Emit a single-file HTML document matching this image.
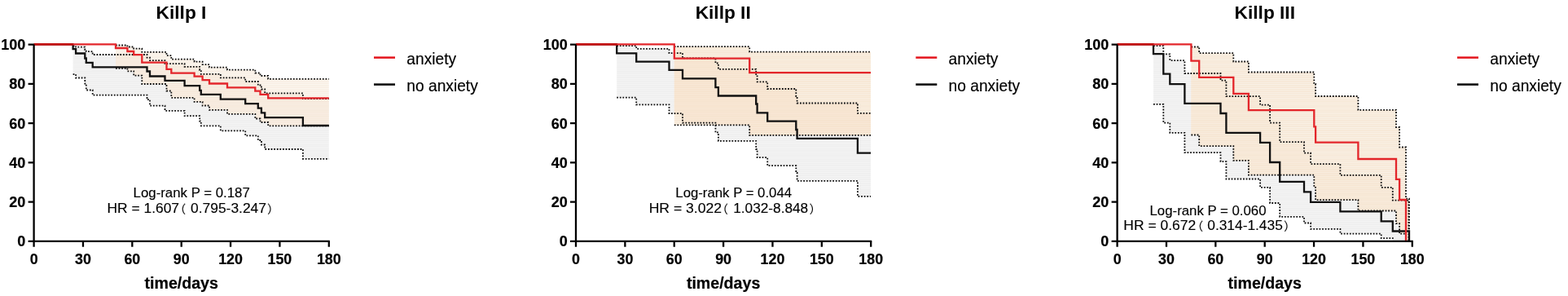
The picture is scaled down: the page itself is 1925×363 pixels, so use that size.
<!DOCTYPE html>
<html><head><meta charset="utf-8"><style>
html,body{margin:0;padding:0;background:#fff;width:1925px;height:363px;overflow:hidden}
svg{display:block}
text{font-family:"Liberation Sans","Noto Sans CJK SC",sans-serif;fill:#000}
.tk{font-weight:bold;font-size:17.3px;stroke:#000;stroke-width:0.2px}
.xt{font-weight:bold;font-size:19.6px;stroke:#000;stroke-width:0.2px}
.ti{font-weight:bold;font-size:22.7px}
.lg{font-size:19.2px;stroke:#000;stroke-width:0.15px}
.an{font-size:16px;white-space:pre;stroke:#000;stroke-width:0.12px}
.pa{font-size:14px}
.dot{fill:none;stroke:#111;stroke-width:1.8;stroke-dasharray:1.8 1.8}
.blk{fill:none;stroke:#111;stroke-width:2.3}
.red{fill:none;stroke:#e3262b;stroke-width:2.3}
</style></head><body>
<svg width="1925" height="363" viewBox="0 0 1925 363">
<defs>
<pattern id="hg" width="8" height="2.4" patternUnits="userSpaceOnUse"><rect width="8" height="2.4" fill="#eeeeee"/><rect width="8" height="0.9" fill="#f6f6f6"/></pattern>
<pattern id="ho1" width="8" height="2.4" patternUnits="userSpaceOnUse"><rect width="8" height="2.4" fill="#f8eee3"/><rect width="8" height="0.9" fill="#fcf8f2"/></pattern>
<pattern id="ovho1" width="8" height="2.4" patternUnits="userSpaceOnUse"><rect width="8" height="2.4" fill="#f6e8da"/><rect width="8" height="0.9" fill="#f9f0e6"/></pattern>
<pattern id="ho2" width="8" height="2.4" patternUnits="userSpaceOnUse"><rect width="8" height="2.4" fill="#f6e6d2"/><rect width="8" height="0.9" fill="#fbf2e8"/></pattern>
<pattern id="ovho2" width="8" height="2.4" patternUnits="userSpaceOnUse"><rect width="8" height="2.4" fill="#f6e2cd"/><rect width="8" height="0.9" fill="#f9ead9"/></pattern>
<pattern id="ho3" width="8" height="2.4" patternUnits="userSpaceOnUse"><rect width="8" height="2.4" fill="#f6e7d5"/><rect width="8" height="0.9" fill="#fbf3ea"/></pattern>
<pattern id="ovho3" width="8" height="2.4" patternUnits="userSpaceOnUse"><rect width="8" height="2.4" fill="#f6e5d1"/><rect width="8" height="0.9" fill="#f9eee1"/></pattern>
</defs>
<g id="p0">
<clipPath id="cho1"><path d="M142.00 55.50H156.40V57.50H164.20V59.60H174.30V63.80H204.50V68.20H210.30V72.70H238.60V75.70H248.60V79.10H257.00V82.60H279.00V85.70H313.30V89.50H319.50V93.00H329.20V96.80H403.80V154.30H329.20V150.00H319.50V145.50H313.30V139.80H279.00V134.80H257.00V129.50H248.60V124.90H238.60V119.80H210.30V111.50H204.50V103.00H174.30V92.60H164.20V87.30H156.40V83.80H142.00Z"/></clipPath>
<path d="M89.60 56.30H93.10V57.70H104.30V61.20H105.80V63.10H113.70V67.00H180.50V70.60H184.00V74.10H202.50V78.20H226.60V81.80H245.20V86.00H246.80V90.80H270.80V95.40H301.20V100.00H316.80V104.50H320.90V109.50H325.20V114.30H371.90V121.10H403.80V194.80H371.90V183.00H325.20V177.50H320.90V172.00H316.80V166.30H301.20V160.30H270.80V154.30H246.80V148.50H245.20V142.20H226.60V135.80H202.50V129.70H184.00V122.20H180.50V116.60H113.70V110.50H105.80V102.50H104.30V95.50H93.10V91.20H89.60Z" fill="url(#hg)"/>
<path d="M142.00 55.50H156.40V57.50H164.20V59.60H174.30V63.80H204.50V68.20H210.30V72.70H238.60V75.70H248.60V79.10H257.00V82.60H279.00V85.70H313.30V89.50H319.50V93.00H329.20V96.80H403.80V154.30H329.20V150.00H319.50V145.50H313.30V139.80H279.00V134.80H257.00V129.50H248.60V124.90H238.60V119.80H210.30V111.50H204.50V103.00H174.30V92.60H164.20V87.30H156.40V83.80H142.00Z" fill="url(#ho1)"/>
<path d="M89.60 56.30H93.10V57.70H104.30V61.20H105.80V63.10H113.70V67.00H180.50V70.60H184.00V74.10H202.50V78.20H226.60V81.80H245.20V86.00H246.80V90.80H270.80V95.40H301.20V100.00H316.80V104.50H320.90V109.50H325.20V114.30H371.90V121.10H403.80V194.80H371.90V183.00H325.20V177.50H320.90V172.00H316.80V166.30H301.20V160.30H270.80V154.30H246.80V148.50H245.20V142.20H226.60V135.80H202.50V129.70H184.00V122.20H180.50V116.60H113.70V110.50H105.80V102.50H104.30V95.50H93.10V91.20H89.60Z" fill="url(#ovho1)" clip-path="url(#cho1)"/>
<path d="M89.60 56.30H93.10V57.70H104.30V61.20H105.80V63.10H113.70V67.00H180.50V70.60H184.00V74.10H202.50V78.20H226.60V81.80H245.20V86.00H246.80V90.80H270.80V95.40H301.20V100.00H316.80V104.50H320.90V109.50H325.20V114.30H371.90V121.10H403.80" class="dot"/>
<path d="M89.60 91.20H93.10V95.50H104.30V102.50H105.80V110.50H113.70V116.60H180.50V122.20H184.00V129.70H202.50V135.80H226.60V142.20H245.20V148.50H246.80V154.30H270.80V160.30H301.20V166.30H316.80V172.00H320.90V177.50H325.20V183.00H371.90V194.80H403.80" class="dot"/>
<path d="M142.00 55.50H156.40V57.50H164.20V59.60H174.30V63.80H204.50V68.20H210.30V72.70H238.60V75.70H248.60V79.10H257.00V82.60H279.00V85.70H313.30V89.50H319.50V93.00H329.20V96.80H403.80" class="dot"/>
<path d="M142.00 83.80H156.40V87.30H164.20V92.60H174.30V103.00H204.50V111.50H210.30V119.80H238.60V124.90H248.60V129.50H257.00V134.80H279.00V139.80H313.30V145.50H319.50V150.00H329.20V154.30H403.80" class="dot"/>
<path d="M41.60 54.30H89.60V60.20H93.10V65.50H104.30V71.50H105.80V76.90H113.70V82.40H180.50V87.50H184.00V93.50H202.50V98.80H226.60V105.20H245.20V110.80H246.80V115.90H270.80V121.60H301.20V127.20H316.80V132.70H320.90V138.40H325.20V144.20H371.90V154.00H403.80" class="blk"/>
<path d="M41.60 54.30H142.00V59.00H156.40V63.00H164.20V67.20H174.30V76.60H204.50V84.80H210.30V89.60H238.60V93.60H248.60V98.10H257.00V102.50H279.00V107.40H313.30V111.60H319.50V115.90H329.20V120.30H403.80" class="red"/>
<path d="M41.60 54.30H89.60" class="red" style="stroke:#c40a0a"/>
<path d="M41.60 54.60V295.85H404.80" fill="none" stroke="#000" stroke-width="2.3" stroke-linejoin="miter"/>
<path d="M34.60 295.85H41.60M34.60 247.60H41.60M34.60 199.35H41.60M34.60 151.10H41.60M34.60 102.85H41.60M34.60 54.60H41.60M41.60 295.85V302.65M101.97 295.85V302.65M162.33 295.85V302.65M222.70 295.85V302.65M283.06 295.85V302.65M343.43 295.85V302.65M403.80 295.85V302.65" stroke="#000" stroke-width="2.3" fill="none"/>
<text class="tk" transform="translate(31.30 302.45) scale(1.04 1.09)" text-anchor="end">0</text>
<text class="tk" transform="translate(31.30 254.20) scale(1.04 1.09)" text-anchor="end">20</text>
<text class="tk" transform="translate(31.30 205.95) scale(1.04 1.09)" text-anchor="end">40</text>
<text class="tk" transform="translate(31.30 157.70) scale(1.04 1.09)" text-anchor="end">60</text>
<text class="tk" transform="translate(31.30 109.45) scale(1.04 1.09)" text-anchor="end">80</text>
<text class="tk" transform="translate(31.30 61.20) scale(1.04 1.09)" text-anchor="end">100</text>
<text class="tk" transform="translate(41.60 323.6) scale(1.03 1.09)" text-anchor="middle">0</text>
<text class="tk" transform="translate(101.97 323.6) scale(1.03 1.09)" text-anchor="middle">30</text>
<text class="tk" transform="translate(162.33 323.6) scale(1.03 1.09)" text-anchor="middle">60</text>
<text class="tk" transform="translate(222.70 323.6) scale(1.03 1.09)" text-anchor="middle">90</text>
<text class="tk" transform="translate(283.06 323.6) scale(1.03 1.09)" text-anchor="middle">120</text>
<text class="tk" transform="translate(343.43 323.6) scale(1.03 1.09)" text-anchor="middle">150</text>
<text class="tk" transform="translate(403.80 323.6) scale(1.03 1.09)" text-anchor="middle">180</text>
<text class="xt" x="222.70" y="353.5" text-anchor="middle">time/days</text>
<text class="ti" x="222.5" y="23.1" text-anchor="middle">Killp I</text>
<path d="M459 70.6H485" stroke="#e3141b" stroke-width="2.5"/>
<path d="M459 103.6H485" stroke="#000" stroke-width="2.5"/>
<text class="lg" transform="translate(499.3 78.5) scale(1 1.1)">anxiety</text>
<text class="lg" transform="translate(499.3 112) scale(1 1.1)">no anxiety</text>
<text class="an" x="163.63" y="241.85" textLength="143.16" lengthAdjust="spacingAndGlyphs">Log-rank P = 0.187</text><text class="an" y="260.7"><tspan x="131.49" textLength="88.57" lengthAdjust="spacingAndGlyphs">HR = 1.607</tspan><tspan class="pa" x="214.10">（</tspan><tspan x="229.26" textLength="97.67" lengthAdjust="spacingAndGlyphs"> 0.795-3.247</tspan><tspan class="pa" x="328.21">）</tspan></text>
</g>
<g id="p1">
<clipPath id="cho2"><path d="M827.80 57.20H920.20V63.70H1069.00V165.80H920.20V153.30H827.80Z"/></clipPath>
<path d="M757.20 56.10H781.20V59.80H821.50V65.20H838.00V71.30H878.40V77.50H881.90V84.80H928.20V92.50H929.60V100.30H942.20V109.00H977.30V118.00H978.60V126.50H1052.90V138.90H1069.00V240.90H1052.90V221.80H978.60V212.00H977.30V203.20H942.20V193.20H929.60V183.00H928.20V172.80H881.90V162.40H878.40V150.60H838.00V139.20H821.50V128.30H781.20V119.60H757.20Z" fill="url(#hg)"/>
<path d="M827.80 57.20H920.20V63.70H1069.00V165.80H920.20V153.30H827.80Z" fill="url(#ho2)"/>
<path d="M757.20 56.10H781.20V59.80H821.50V65.20H838.00V71.30H878.40V77.50H881.90V84.80H928.20V92.50H929.60V100.30H942.20V109.00H977.30V118.00H978.60V126.50H1052.90V138.90H1069.00V240.90H1052.90V221.80H978.60V212.00H977.30V203.20H942.20V193.20H929.60V183.00H928.20V172.80H881.90V162.40H878.40V150.60H838.00V139.20H821.50V128.30H781.20V119.60H757.20Z" fill="url(#ovho2)" clip-path="url(#cho2)"/>
<path d="M757.20 56.10H781.20V59.80H821.50V65.20H838.00V71.30H878.40V77.50H881.90V84.80H928.20V92.50H929.60V100.30H942.20V109.00H977.30V118.00H978.60V126.50H1052.90V138.90H1069.00" class="dot"/>
<path d="M757.20 119.60H781.20V128.30H821.50V139.20H838.00V150.60H878.40V162.40H881.90V172.80H928.20V183.00H929.60V193.20H942.20V203.20H977.30V212.00H978.60V221.80H1052.90V240.90H1069.00" class="dot"/>
<path d="M827.80 57.20H920.20V63.70H1069.00" class="dot"/>
<path d="M827.80 153.30H920.20V165.80H1069.00" class="dot"/>
<path d="M707.00 54.30H757.20V65.30H781.20V75.70H821.50V85.90H838.00V96.30H878.40V107.20H881.90V117.50H928.20V127.50H929.60V138.30H942.20V148.60H977.30V159.00H978.60V169.90H1052.90V187.70H1069.00" class="blk"/>
<path d="M707.00 54.30H827.80V71.60H920.20V89.10H1069.00" class="red"/>
<path d="M707.00 54.30H757.20" class="red" style="stroke:#c40a0a"/>
<path d="M707.00 54.60V295.85H1070.20" fill="none" stroke="#000" stroke-width="2.3" stroke-linejoin="miter"/>
<path d="M700.00 295.85H707.00M700.00 247.60H707.00M700.00 199.35H707.00M700.00 151.10H707.00M700.00 102.85H707.00M700.00 54.60H707.00M707.00 295.85V302.65M767.37 295.85V302.65M827.73 295.85V302.65M888.10 295.85V302.65M948.46 295.85V302.65M1008.83 295.85V302.65M1069.20 295.85V302.65" stroke="#000" stroke-width="2.3" fill="none"/>
<text class="tk" transform="translate(696.70 302.45) scale(1.04 1.09)" text-anchor="end">0</text>
<text class="tk" transform="translate(696.70 254.20) scale(1.04 1.09)" text-anchor="end">20</text>
<text class="tk" transform="translate(696.70 205.95) scale(1.04 1.09)" text-anchor="end">40</text>
<text class="tk" transform="translate(696.70 157.70) scale(1.04 1.09)" text-anchor="end">60</text>
<text class="tk" transform="translate(696.70 109.45) scale(1.04 1.09)" text-anchor="end">80</text>
<text class="tk" transform="translate(696.70 61.20) scale(1.04 1.09)" text-anchor="end">100</text>
<text class="tk" transform="translate(707.00 323.6) scale(1.03 1.09)" text-anchor="middle">0</text>
<text class="tk" transform="translate(767.37 323.6) scale(1.03 1.09)" text-anchor="middle">30</text>
<text class="tk" transform="translate(827.73 323.6) scale(1.03 1.09)" text-anchor="middle">60</text>
<text class="tk" transform="translate(888.10 323.6) scale(1.03 1.09)" text-anchor="middle">90</text>
<text class="tk" transform="translate(948.46 323.6) scale(1.03 1.09)" text-anchor="middle">120</text>
<text class="tk" transform="translate(1008.83 323.6) scale(1.03 1.09)" text-anchor="middle">150</text>
<text class="tk" transform="translate(1069.20 323.6) scale(1.03 1.09)" text-anchor="middle">180</text>
<text class="xt" x="888.10" y="353.5" text-anchor="middle">time/days</text>
<text class="ti" x="887.7" y="23.1" text-anchor="middle">Killp II</text>
<path d="M1124.3 70.6H1150.3" stroke="#e3141b" stroke-width="2.5"/>
<path d="M1124.3 103.6H1150.3" stroke="#000" stroke-width="2.5"/>
<text class="lg" transform="translate(1164.6 78.5) scale(1 1.1)">anxiety</text>
<text class="lg" transform="translate(1164.6 112) scale(1 1.1)">no anxiety</text>
<text class="an" x="829.34" y="241.85" textLength="142.73" lengthAdjust="spacingAndGlyphs">Log-rank P = 0.044</text><text class="an" y="260.5"><tspan x="796.67" textLength="89.39" lengthAdjust="spacingAndGlyphs">HR = 3.022</tspan><tspan class="pa" x="879.75">（</tspan><tspan x="895.46" textLength="96.75" lengthAdjust="spacingAndGlyphs"> 1.032-8.848</tspan><tspan class="pa" x="993.66">）</tspan></text>
</g>
<g id="p2">
<clipPath id="cho3"><path d="M1462.40 57.50H1472.20V65.20H1514.30V75.50H1532.90V88.50H1613.30V103.00H1615.10V118.00H1667.40V134.90H1714.00V156.00H1718.10V180.50H1726.00V243.60H1730.00V296.00H1726.00V286.60H1718.10V274.20H1714.00V258.50H1667.40V245.20H1615.10V229.80H1613.30V214.60H1532.90V196.90H1514.30V179.20H1472.20V165.50H1462.40Z"/></clipPath>
<path d="M1416.00 56.20H1428.30V66.30H1436.30V74.10H1454.40V90.00H1498.50V98.60H1505.40V118.20H1547.10V128.60H1559.10V150.60H1571.20V174.20H1601.00V187.70H1609.10V201.10H1645.40V214.90H1695.70V229.80H1709.80V245.60H1729.40V296.00H1709.80V292.10H1695.70V286.60H1645.40V280.80H1609.10V273.50H1601.00V265.80H1571.20V249.00H1559.10V229.80H1547.10V219.50H1505.40V198.20H1498.50V187.20H1454.40V162.80H1436.30V150.60H1428.30V127.90H1416.00Z" fill="url(#hg)"/>
<path d="M1462.40 57.50H1472.20V65.20H1514.30V75.50H1532.90V88.50H1613.30V103.00H1615.10V118.00H1667.40V134.90H1714.00V156.00H1718.10V180.50H1726.00V243.60H1730.00V296.00H1726.00V286.60H1718.10V274.20H1714.00V258.50H1667.40V245.20H1615.10V229.80H1613.30V214.60H1532.90V196.90H1514.30V179.20H1472.20V165.50H1462.40Z" fill="url(#ho3)"/>
<path d="M1416.00 56.20H1428.30V66.30H1436.30V74.10H1454.40V90.00H1498.50V98.60H1505.40V118.20H1547.10V128.60H1559.10V150.60H1571.20V174.20H1601.00V187.70H1609.10V201.10H1645.40V214.90H1695.70V229.80H1709.80V245.60H1729.40V296.00H1709.80V292.10H1695.70V286.60H1645.40V280.80H1609.10V273.50H1601.00V265.80H1571.20V249.00H1559.10V229.80H1547.10V219.50H1505.40V198.20H1498.50V187.20H1454.40V162.80H1436.30V150.60H1428.30V127.90H1416.00Z" fill="url(#ovho3)" clip-path="url(#cho3)"/>
<path d="M1416.00 56.20H1428.30V66.30H1436.30V74.10H1454.40V90.00H1498.50V98.60H1505.40V118.20H1547.10V128.60H1559.10V150.60H1571.20V174.20H1601.00V187.70H1609.10V201.10H1645.40V214.90H1695.70V229.80H1709.80V245.60H1729.40V296.00" class="dot"/>
<path d="M1416.00 127.90H1428.30V150.60H1436.30V162.80H1454.40V187.20H1498.50V198.20H1505.40V219.50H1547.10V229.80H1559.10V249.00H1571.20V265.80H1601.00V273.50H1609.10V280.80H1645.40V286.60H1695.70V292.10H1709.80V296.00" class="dot"/>
<path d="M1462.40 57.50H1472.20V65.20H1514.30V75.50H1532.90V88.50H1613.30V103.00H1615.10V118.00H1667.40V134.90H1714.00V156.00H1718.10V180.50H1726.00V243.60H1730.00V296.00" class="dot"/>
<path d="M1462.40 165.50H1472.20V179.20H1514.30V196.90H1532.90V214.60H1613.30V229.80H1615.10V245.20H1667.40V258.50H1714.00V274.20H1718.10V286.60H1726.00V296.00" class="dot"/>
<path d="M1371.60 54.30H1416.00V66.20H1428.30V90.70H1436.30V103.10H1454.40V126.90H1498.50V139.00H1505.40V162.80H1547.10V174.80H1559.10V199.00H1571.20V222.90H1601.00V235.30H1609.10V247.80H1645.40V259.30H1695.70V271.40H1709.80V283.50H1730.00V296.00" class="blk"/>
<path d="M1371.60 54.30H1462.40V74.60H1472.20V94.80H1514.30V114.80H1532.90V135.10H1613.30V155.30H1615.10V174.60H1667.40V195.00H1714.00V219.90H1718.10V245.00H1726.00V296.00" class="red"/>
<path d="M1371.6 54.3H1416" class="red" style="stroke:#c40a0a"/>
<path d="M1371.60 54.60V295.85H1734.80" fill="none" stroke="#000" stroke-width="2.3" stroke-linejoin="miter"/>
<path d="M1364.60 295.85H1371.60M1364.60 247.60H1371.60M1364.60 199.35H1371.60M1364.60 151.10H1371.60M1364.60 102.85H1371.60M1364.60 54.60H1371.60M1371.60 295.85V302.65M1431.97 295.85V302.65M1492.33 295.85V302.65M1552.70 295.85V302.65M1613.06 295.85V302.65M1673.43 295.85V302.65M1733.80 295.85V302.65" stroke="#000" stroke-width="2.3" fill="none"/>
<text class="tk" transform="translate(1361.30 302.45) scale(1.04 1.09)" text-anchor="end">0</text>
<text class="tk" transform="translate(1361.30 254.20) scale(1.04 1.09)" text-anchor="end">20</text>
<text class="tk" transform="translate(1361.30 205.95) scale(1.04 1.09)" text-anchor="end">40</text>
<text class="tk" transform="translate(1361.30 157.70) scale(1.04 1.09)" text-anchor="end">60</text>
<text class="tk" transform="translate(1361.30 109.45) scale(1.04 1.09)" text-anchor="end">80</text>
<text class="tk" transform="translate(1361.30 61.20) scale(1.04 1.09)" text-anchor="end">100</text>
<text class="tk" transform="translate(1371.60 323.6) scale(1.03 1.09)" text-anchor="middle">0</text>
<text class="tk" transform="translate(1431.97 323.6) scale(1.03 1.09)" text-anchor="middle">30</text>
<text class="tk" transform="translate(1492.33 323.6) scale(1.03 1.09)" text-anchor="middle">60</text>
<text class="tk" transform="translate(1552.70 323.6) scale(1.03 1.09)" text-anchor="middle">90</text>
<text class="tk" transform="translate(1613.06 323.6) scale(1.03 1.09)" text-anchor="middle">120</text>
<text class="tk" transform="translate(1673.43 323.6) scale(1.03 1.09)" text-anchor="middle">150</text>
<text class="tk" transform="translate(1733.80 323.6) scale(1.03 1.09)" text-anchor="middle">180</text>
<text class="xt" x="1552.70" y="353.5" text-anchor="middle">time/days</text>
<text class="ti" x="1552.8" y="23.1" text-anchor="middle">Killp III</text>
<path d="M1789 70.6H1815" stroke="#e3141b" stroke-width="2.5"/>
<path d="M1789 103.6H1815" stroke="#000" stroke-width="2.5"/>
<text class="lg" transform="translate(1829.3 78.5) scale(1 1.1)">anxiety</text>
<text class="lg" transform="translate(1829.3 112) scale(1 1.1)">no anxiety</text>
<text class="an" x="1411.54" y="263.85" textLength="142.95" lengthAdjust="spacingAndGlyphs">Log-rank P = 0.060</text><text class="an" y="282.3"><tspan x="1379.38" textLength="88.77" lengthAdjust="spacingAndGlyphs">HR = 0.672</tspan><tspan class="pa" x="1462.90">（</tspan><tspan x="1477.48" textLength="97.33" lengthAdjust="spacingAndGlyphs"> 0.314-1.435</tspan><tspan class="pa" x="1576.36">）</tspan></text>
</g>
</svg>
</body></html>
